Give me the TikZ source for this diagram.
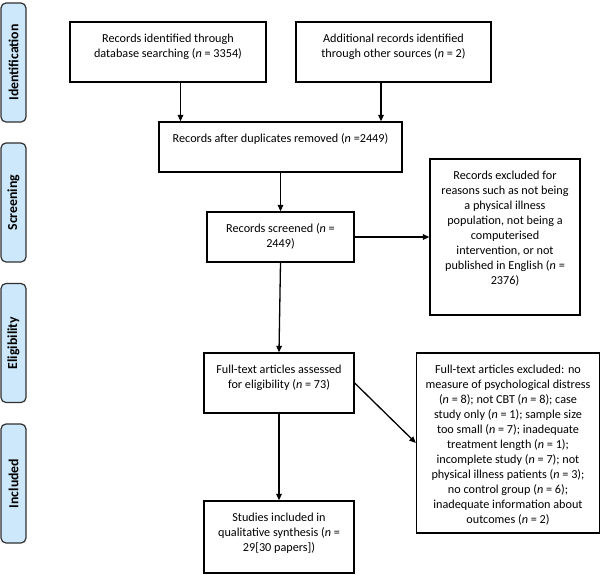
\documentclass[tikz,border=0pt]{standalone}
\usepackage{fontspec}
\setmainfont{Carlito}
\usetikzlibrary{arrows.meta}
\definecolor{sidefill}{HTML}{CDE8FA}
\definecolor{sideline}{HTML}{303030}
\newcommand{\bx}[3]{\parbox[c][#2pt][t]{#1pt}{\centering\baselineskip=15pt\rule{0pt}{20pt}#3\par}}
\tikzset{
  flowbox/.style={draw=black, line width=1.3pt, inner sep=0pt, fill=white, font=\fontsize{12.2}{15}\selectfont},
  sidebox/.style={draw=sideline, fill=sidefill, line width=1.2pt, rounded corners=5pt, minimum width=119pt, minimum height=25pt, inner sep=0pt, rotate=90, font=\bfseries\fontsize{13.8}{14}\selectfont},
  arr/.style={line width=1.3pt, -{Triangle[length=6.5pt,width=5.5pt]}}
}
\begin{document}
\begin{tikzpicture}[x=1pt,y=-1pt]
\useasboundingbox (0,0) rectangle (602,574);
% side labels
\node[sidebox] (s1) at (13.5,62.5) {Identification};
\node[sidebox] (s2) at (13.5,202.5) {Screening};
\node[sidebox] (s3) at (13.5,343) {Eligibility};
\node[sidebox] (s4) at (13.5,483.5) {Included};
% boxes
\node[flowbox] (b1) at (168,52) {\bx{196}{60}{Records identified through\\database searching (\textit{n} = 3354)}};
\node[flowbox] (b2) at (393.5,52) {\bx{195}{60}{Additional records identified\\through other sources (\textit{n} = 2)}};
\node[flowbox] (b3) at (280.5,147) {\bx{243}{50}{Records after duplicates removed (\textit{n} =2449)}};
\node[flowbox] (b4) at (280.5,237) {\bx{147}{50}{Records screened (\textit{n} =\\2449)}};
\node[flowbox] (e1) at (505,237) {\bx{150}{156}{Records excluded for\\reasons such as not being\\a physical illness\\population, not being a\\computerised\\intervention, or not\\published in English (\textit{n} =\\2376)}};
\node[flowbox] (b5) at (279,383) {\bx{150}{60}{Full-text articles assessed\\for eligibility (\textit{n} = 73)}};
\node[flowbox] (b6) at (279,537) {\bx{150}{72}{Studies included in\\qualitative synthesis (\textit{n} =\\29[30 papers])}};
\node[flowbox] (e2) at (508,443) {\bx{183}{180}{Full-text articles excluded: no\\measure of psychological distress\\(\textit{n} = 8); not CBT (\textit{n} = 8); case\\study only (\textit{n} = 1); sample size\\too small (\textit{n} = 7); inadequate\\treatment length (\textit{n} = 1);\\incomplete study (\textit{n} = 7); not\\physical illness patients (\textit{n} = 3);\\no control group (\textit{n} = 6);\\inadequate information about\\outcomes (\textit{n} = 2)}};
% connector x positions
\coordinate (c1) at (180.5,0);
\coordinate (c2) at (381,0);
% connectors
\draw[arr] (b1.south -| c1) -- (b3.north -| c1);
\draw[arr] (b2.south -| c2) -- (b3.north -| c2);
\draw[arr] (b3.south -| b4.north) -- (b4.north);
\draw[arr] (b4.east) -- (e1.west);
\draw[arr] (b4.south) -- (b5.north);
\draw[arr] (b5.south) -- (b6.north);
\draw[arr] (b5.east) -- (e2.west);
\end{tikzpicture}
\end{document}
